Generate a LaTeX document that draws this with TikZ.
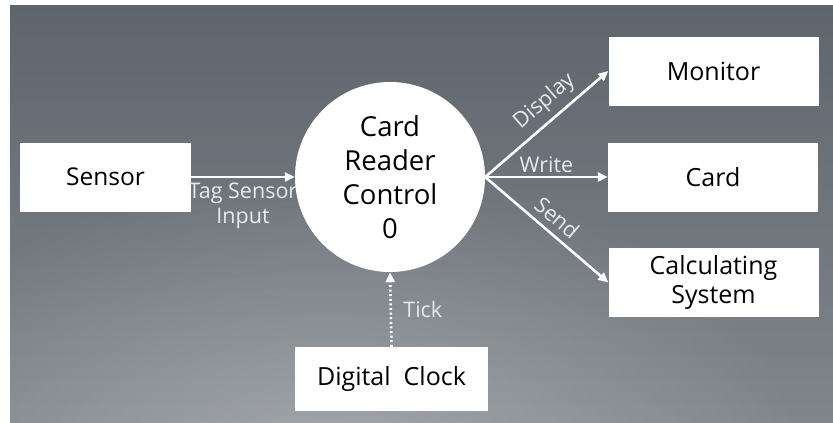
\documentclass[tikz,border=0pt]{standalone}
\usepackage{fontspec}
\setmainfont{Open Sans}
\usepackage{xcolor}
\usetikzlibrary{positioning,calc,arrows.meta,fadings}

\definecolor{bgtop}{HTML}{5E656C}
\definecolor{bgbot}{HTML}{80868B}
\definecolor{flowtext}{HTML}{E8EAEC}
\tikzfading[name=glowfade, inner color=transparent!0, outer color=transparent!100]

\tikzset{
    entity/.style={draw=none, fill=white, minimum width=210pt, minimum height=69pt,
        inner sep=0pt, align=center, font=\fontsize{25}{29}\selectfont},
    process/.style={circle, fill=white, minimum size=190pt, inner sep=0pt,
        align=center, font=\fontsize{27.5}{34}\selectfont},
    flow/.style={white, line width=2.6pt, -{Triangle[length=10pt,width=9pt]}},
    flowlabel/.style={text=flowtext, font=\fontsize{21.5}{25}\selectfont, align=center}
}

\begin{document}
\begin{tikzpicture}[x=1pt,y=-1pt]
    % Background
    \useasboundingbox (0,0) rectangle (833,423);
    \fill[white] (0,0) rectangle (833,423);
    \shade[top color=bgtop, bottom color=bgbot] (10,5) rectangle (833,423);
    \begin{scope}
        \clip (10,5) rectangle (833,423);
        \fill[white, opacity=0.28, path fading=glowfade] (330,470) ellipse (480pt and 300pt);
    \end{scope}

    % Process and entities
    \node[process] (crc) at (390,177) {Card\\Reader\\Control\\0};
    \node[entity] (sensor) at (105.5,177) [minimum width=171pt, font=\fontsize{24.5}{29}\selectfont] {Sensor};
    \node[entity] (monitor) at (713.5,71) {Monitor};
    \node[entity] (card) at (713,177) {Card};
    \node[entity] (calc) at (713.5,282.5) {Calculating\\System};
    \node[entity] (clock) at (391.5,379) [minimum width=193pt, minimum height=64pt] {Digital\ \ Clock};

    % Flows
    \draw[flow] (sensor.east) -- node[flowlabel, below=1pt] {Tag Sensor\\Input} (crc.west);
    \draw[flow] (crc.east) -- node[flowlabel, sloped, above=3pt, pos=0.58] {Display} (monitor.west);
    \draw[flow] (crc.east) -- node[flowlabel, above=0pt] {Write} (card.west);
    \draw[flow] (crc.east) -- node[flowlabel, sloped, above=3pt, pos=0.5] {Send} (calc.west);
    \draw[flow, dash pattern=on 2pt off 2.6pt] (clock.north) -- node[flowlabel, right=8pt] {Tick} (crc.south);
\end{tikzpicture}
\end{document}
